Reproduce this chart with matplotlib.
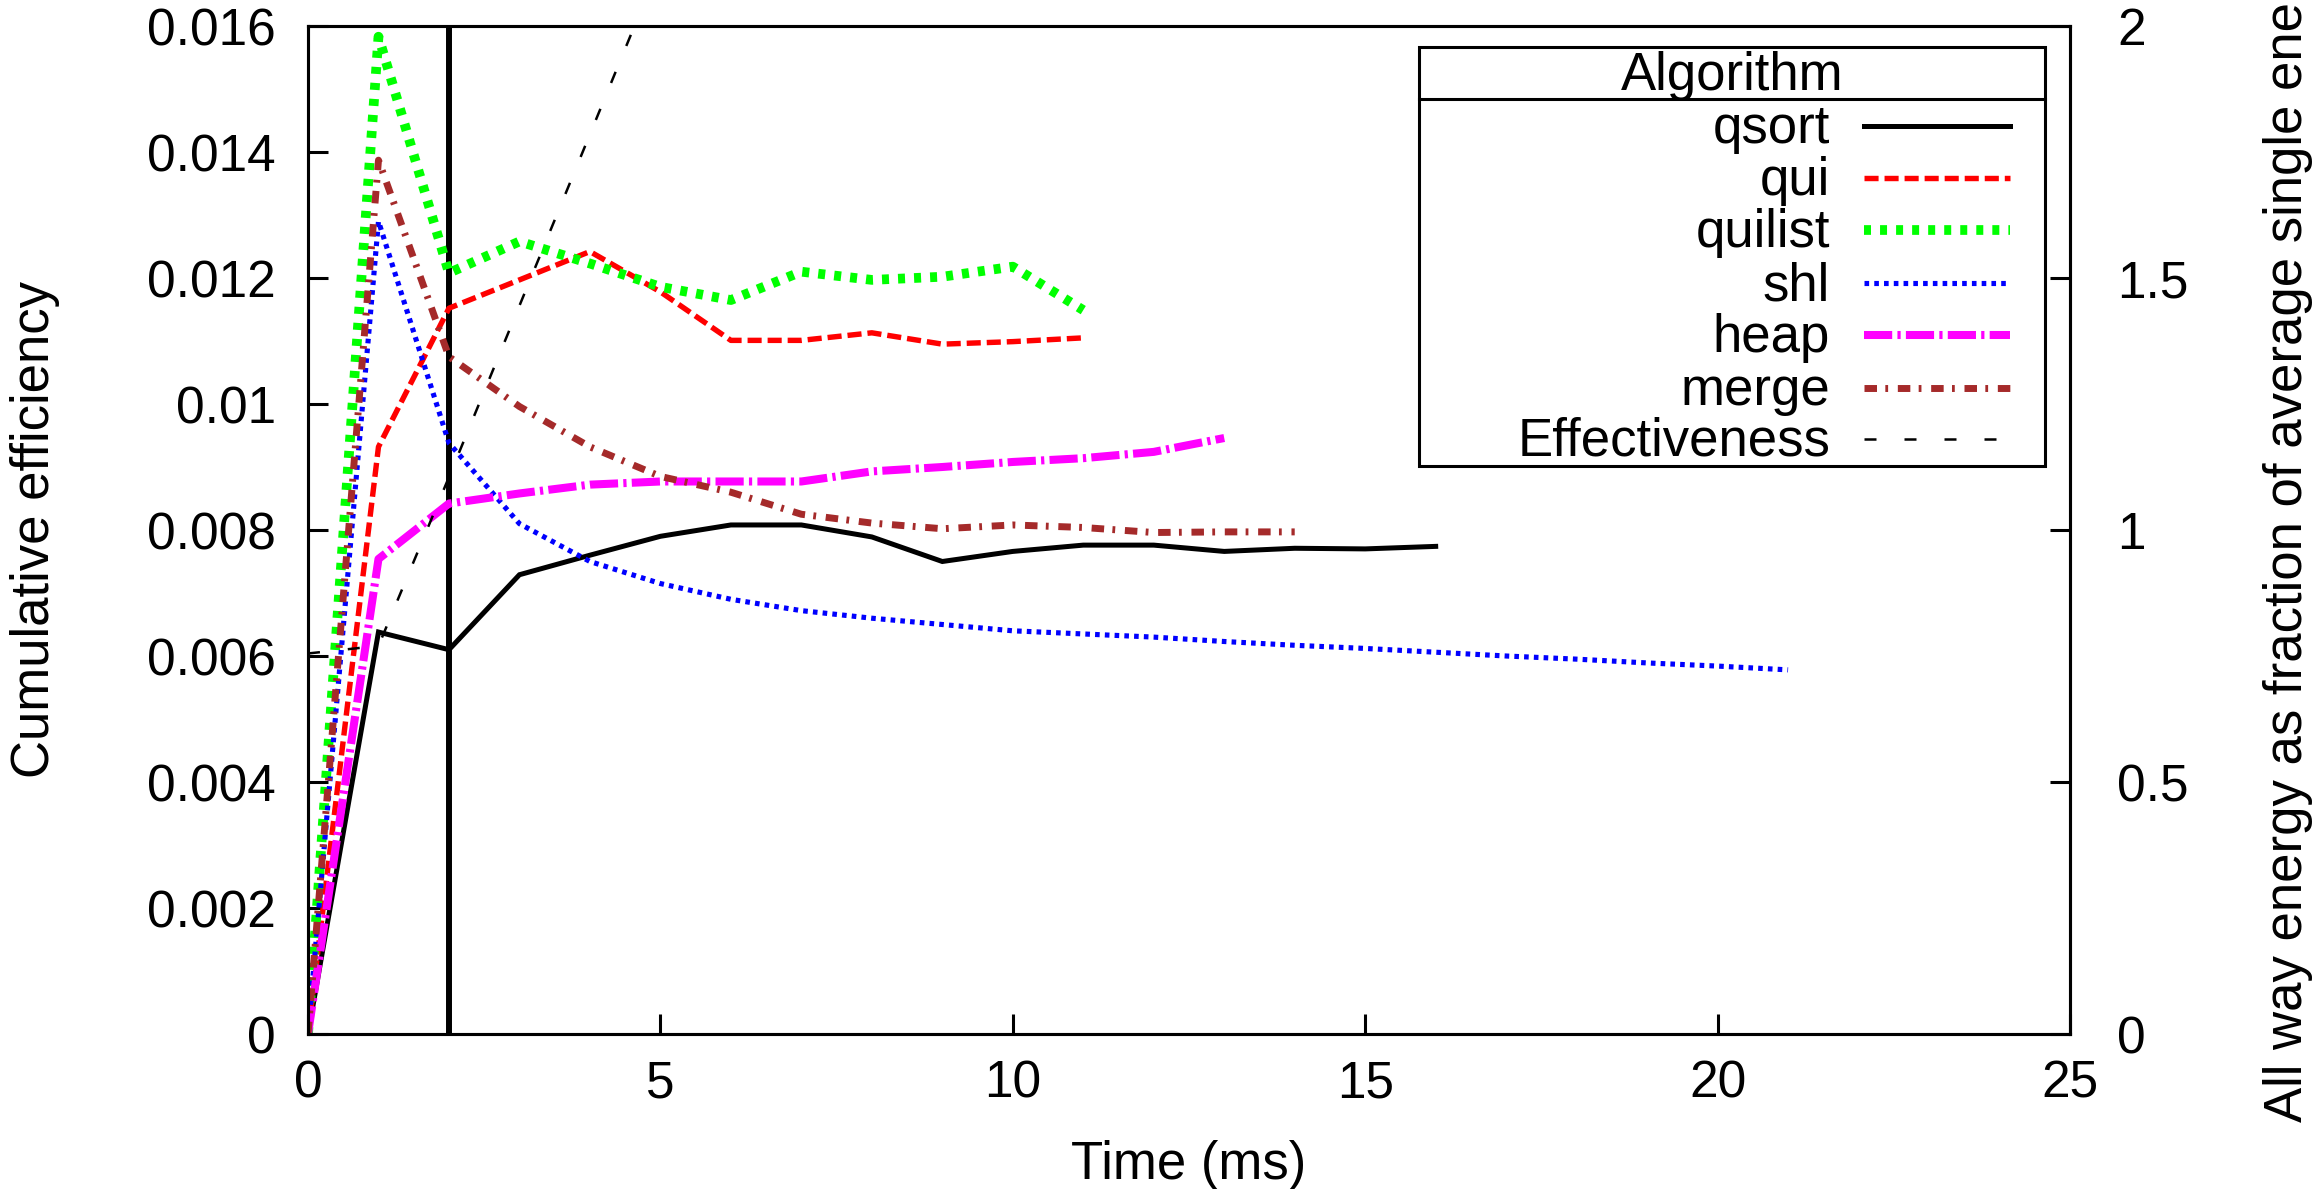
import matplotlib
matplotlib.use("Agg")
import matplotlib.pyplot as plt
from matplotlib.lines import Line2D
from matplotlib.patches import Rectangle
from matplotlib.ticker import FuncFormatter

plt.rcParams['font.family'] = ['Liberation Sans', 'DejaVu Sans']
plt.rcParams['font.size'] = 38

# data (time in ms, cumulative efficiency)
t_qsort = list(range(17))
qsort = [0, 0.00638, 0.0061, 0.00729, 0.0076, 0.0079, 0.00808, 0.00808, 0.00789,
         0.0075, 0.00766, 0.00776, 0.00776, 0.00766, 0.00771, 0.0077, 0.00774]
t_qui = list(range(12))
qui = [0, 0.00932, 0.01152, 0.01197, 0.01242, 0.01178, 0.01101, 0.01101, 0.01113,
       0.01095, 0.01099, 0.01105]
t_quilist = list(range(12))
quilist = [0, 0.01583, 0.01208, 0.01258, 0.01223, 0.01186, 0.01165, 0.0121, 0.01197,
           0.01202, 0.01218, 0.01149]
t_shl = list(range(22))
shl = [0, 0.0129, 0.00938, 0.0081, 0.0075, 0.00715, 0.0069, 0.00672, 0.0066, 0.0065,
       0.0064, 0.00635, 0.0063, 0.00623, 0.00617, 0.00612, 0.00606, 0.006, 0.00595,
       0.00589, 0.00584, 0.00578]
t_heap = list(range(14))
heap = [0, 0.00754, 0.00842, 0.00858, 0.00872, 0.00877, 0.00877, 0.00877, 0.00893,
        0.009, 0.00908, 0.00914, 0.00924, 0.00946]
t_merge = list(range(15))
merge = [0, 0.01387, 0.01075, 0.00996, 0.00932, 0.00885, 0.0086, 0.00825, 0.00811,
         0.00802, 0.00808, 0.00804, 0.00796, 0.00797, 0.00797]
# right axis: all way energy / average single energy
t_eff = list(range(6))
effectiveness = [0.755, 0.77, 1.105, 1.445, 1.785, 2.125]
marker_time = 2

labels = ['qsort', 'qui', 'quilist', 'shl', 'heap', 'merge', 'Effectiveness']

# styles: (color, linewidth pt, dash pattern in lw units)
styles = {
    'qsort': ('black', 3.6, None),
    'qui': ('#ff0000', 3.9, (2.6, 1.1)),
    'quilist': ('#00ff00', 7.0, (0.72, 0.93)),
    'shl': ('#0000ff', 3.7, (0.9, 1.0)),
    'heap': ('#ff00ff', 5.8, (3.5, 0.65, 0.4, 0.65)),
    'merge': ('#a52a2a', 5.0, (1.8, 1.2, 0.4, 1.4)),
    'Effectiveness': ('black', 1.8, (4.8, 11.2)),
}

W, H = 2323, 1189
fig = plt.figure(figsize=(W / 100, H / 100), dpi=100)
ax = fig.add_axes([308 / W, 1 - 1034 / H, (2070 - 308) / W, (1034 - 26) / H])
ax2 = ax.twinx()


def style_kw(name):
    c, lw, d = styles[name]
    kw = dict(color=c, linewidth=lw, solid_joinstyle='miter')
    if d is not None:
        kw['dashes'] = d
        kw['dash_capstyle'] = 'butt'
    return kw


ax.axvline(marker_time, color='black', linewidth=4.3, zorder=1)
series = [(t_qsort, qsort, 'qsort'), (t_qui, qui, 'qui'), (t_quilist, quilist, 'quilist'),
          (t_shl, shl, 'shl'), (t_heap, heap, 'heap'), (t_merge, merge, 'merge')]
for t, v, name in series:
    ax.plot(t, v, zorder=2, **style_kw(name))
ax2.plot(t_eff, effectiveness, **style_kw('Effectiveness'))

ax.set_xlim(0, 25)
ax.set_ylim(0, 0.016)
ax2.set_ylim(0, 2)
ax.set_xticks([0, 5, 10, 15, 20, 25])
ax.set_yticks([i * 0.002 for i in range(9)])
ax2.set_yticks([0, 0.5, 1, 1.5, 2])
fmt = FuncFormatter(lambda v, p: '%g' % round(v, 6))
ax.yaxis.set_major_formatter(fmt)
ax2.yaxis.set_major_formatter(fmt)

for a in (ax, ax2):
    for s in a.spines.values():
        s.set_linewidth(2.2)
ax.tick_params(axis='both', direction='in', length=14.4, width=2.2, top=False, right=False,
               labelsize=37)
ax.tick_params(axis='y', pad=23)
ax.tick_params(axis='x', pad=18)
ax2.tick_params(axis='y', direction='in', length=14.4, width=2.2, pad=34, labelsize=37)

ax.set_xlabel('Time (ms)')
ax.xaxis.set_label_coords(0.5, -0.105)
ax.set_ylabel('Cumulative efficiency')
ax.yaxis.set_label_coords(-0.1407, 0.5)
ax2.set_ylabel('All way energy as fraction of average single energy',
               rotation=90, rotation_mode='anchor', ha='left', va='center')
ax2.yaxis.set_label_coords(1.1237, -0.0873)

# key box drawn in figure pixels
def fx(x):
    return x / W


def fy(y):
    return 1 - y / H


fig.add_artist(Rectangle((fx(1419), fy(466)), fx(2045) - fx(1419), fy(47) - fy(466),
                         transform=fig.transFigure, facecolor='white', edgecolor='black',
                         linewidth=2.2, zorder=5))
fig.add_artist(Line2D([fx(1419), fx(2045)], [fy(99), fy(99)], transform=fig.transFigure,
                      color='black', linewidth=2.2, zorder=6))
fig.text(fx(1732), fy(90), 'Algorithm', ha='center', va='baseline', zorder=6)
row_y = [126, 178, 230, 283, 335, 388, 439]
for name, ry in zip(labels, row_y):
    fig.text(fx(1830), fy(ry + 17), name, ha='right', va='baseline', zorder=6)
    fig.add_artist(Line2D([fx(1864), fx(2010)], [fy(ry), fy(ry)], transform=fig.transFigure,
                          zorder=6, **style_kw(name)))

fig.savefig('out.png', dpi=100)
